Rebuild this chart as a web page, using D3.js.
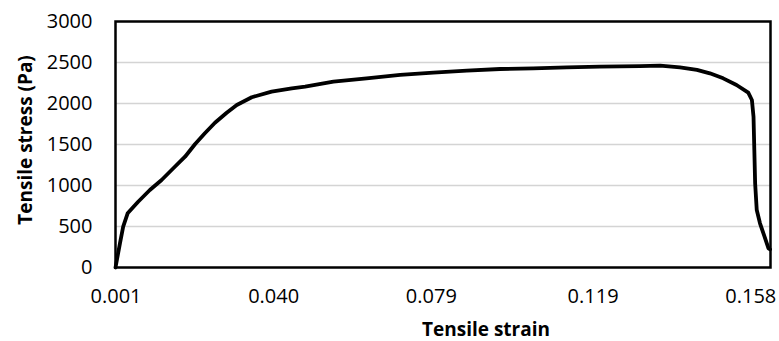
<!DOCTYPE html>
<html>
<head>
<meta charset="utf-8">
<script src="https://cdn.jsdelivr.net/npm/d3@7"></script>
<style>
  html, body { margin: 0; padding: 0; background: #fff; }
  svg { display: block; }
</style>
</head>
<body>
<svg id="chart" width="779" height="341"></svg>
<script>
// strain / stress
const strain = [0.001, 0.0021, 0.0029, 0.0040, 0.0066, 0.0095, 0.0124, 0.0153, 0.0182, 0.0207,
  0.0231, 0.0256, 0.0285, 0.0310, 0.0347, 0.0396, 0.0446, 0.0479, 0.0549, 0.0631,
  0.0714, 0.0796, 0.0879, 0.0961, 0.1043, 0.1126, 0.1208, 0.1307, 0.1357, 0.1406,
  0.1448, 0.1480, 0.1513, 0.1546, 0.1575, 0.1584, 0.1588, 0.1590, 0.1592, 0.1596,
  0.1604, 0.1614, 0.1625, 0.1629];
const stress = [0, 295, 498, 661, 802, 945, 1067, 1210, 1351, 1506,
  1637, 1766, 1888, 1982, 2076, 2144, 2185, 2205, 2266, 2307,
  2348, 2376, 2400, 2421, 2429, 2441, 2449, 2457, 2461, 2441,
  2409, 2368, 2307, 2226, 2132, 2043, 1839, 1433, 1027, 701,
  539, 396, 234, 222];
const xTicks = [0.001, 0.040, 0.079, 0.119, 0.158];
const yTicks = [0, 500, 1000, 1500, 2000, 2500, 3000];

const svg = d3.select("#chart");
const margin = { left: 115.5, right: 8.5, top: 21.5, bottom: 73.5 };
const width = +svg.attr("width") - margin.left - margin.right;
const height = +svg.attr("height") - margin.top - margin.bottom;

const x = d3.scaleLinear().domain([0.001, 0.163]).range([0, width]);
const y = d3.scaleLinear().domain([0, 3000]).range([height, 0]);

const g = svg.append("g").attr("transform", `translate(${margin.left},${margin.top})`);

// gridlines
g.append("g").selectAll("line").data(yTicks.slice(1, -1))
  .enter().append("line")
    .attr("x1", 0).attr("x2", width)
    .attr("y1", d => y(d)).attr("y2", d => y(d))
    .attr("stroke", "#d4d4d4")
    .attr("stroke-width", 1.3);

const yAxis = g.append("g")
  .call(d3.axisLeft(y).tickValues(yTicks).tickSize(0).tickPadding(23).tickFormat(d3.format("d")));
yAxis.select(".domain").remove();
yAxis.selectAll("text")
  .style("font-family", "Open Sans")
  .style("font-size", "20px")
  .attr("fill", "#000");

const xAxis = g.append("g")
  .attr("transform", `translate(0,${height})`)
  .call(d3.axisBottom(x).tickValues(xTicks).tickSize(0).tickPadding(21).tickFormat(d3.format(".3f")));
xAxis.select(".domain").remove();
xAxis.selectAll("text")
  .style("font-family", "Open Sans")
  .style("font-size", "20px")
  .attr("fill", "#000");

// the curve
const line = d3.line()
  .x((d, i) => x(strain[i]))
  .y(d => y(d));

g.append("path")
  .datum(stress)
  .attr("d", line)
  .attr("fill", "none")
  .attr("stroke", "#000")
  .attr("stroke-width", 3.8)
  .attr("stroke-linejoin", "round")
  .attr("stroke-linecap", "round");

// plot border
g.append("rect")
  .attr("width", width)
  .attr("height", height)
  .attr("fill", "none")
  .attr("stroke", "#000")
  .attr("stroke-width", 2.5);

svg.append("text")
  .text("Tensile strain")
  .attr("x", 486)
  .attr("y", 336)
  .attr("text-anchor", "middle")
  .style("font-family", "Open Sans")
  .style("font-weight", "bold")
  .style("font-size", "19px");

svg.append("text")
  .text("Tensile stress (Pa)")
  .attr("transform", "translate(32,140) rotate(-90)")
  .attr("text-anchor", "middle")
  .style("font-family", "Open Sans")
  .style("font-weight", "bold")
  .style("font-size", "19px");
</script>
</body>
</html>
